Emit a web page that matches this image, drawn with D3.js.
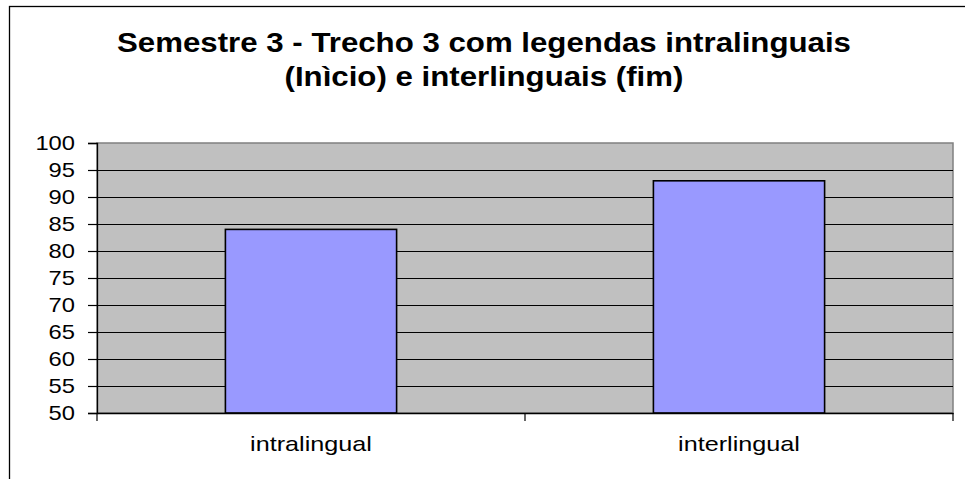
<!DOCTYPE html>
<html>
<head>
<meta charset="utf-8">
<script src="https://cdn.jsdelivr.net/npm/d3@7"></script>
<style>
  body { margin: 0; background: #fff; }
  svg { display: block; font-family: "Liberation Sans", Arial, sans-serif; }
</style>
</head>
<body>
<svg></svg>
<script>
let categories = ["intralingual", "interlingual"];
let values = [84, 93];
let yTicks = [50, 55, 60, 65, 70, 75, 80, 85, 90, 95, 100];
let titleLines = ["Semestre 3 - Trecho 3 com legendas intralinguais", "(Inìcio) e interlinguais (fim)"];

let width = 965;
let height = 479;
let plot = {left: 97, right: 953, top: 143, bottom: 413};
let stretch = 1.13; // text in the original is a bit wider than plain Arial

let svg = d3.select("svg")
    .attr("width", width)
    .attr("height", height);

let widen = (sel, k) => {
    sel.each(function () {
        let w = this.getComputedTextLength();
        d3.select(this)
            .attr("textLength", w * k)
            .attr("lengthAdjust", "spacingAndGlyphs");
    });
};

// chart area frame (cropped at right / bottom)
svg.append("rect")
    .attr("x", 9.5)
    .attr("y", 6.5)
    .attr("width", 1000)
    .attr("height", 1000)
    .attr("fill", "white")
    .attr("stroke", "black")
    .attr("stroke-width", 1.3);

// title
let title = svg.selectAll(".title")
    .data(titleLines)
    .enter()
    .append("text")
    .attr("class", "title")
    .attr("x", 484)
    .attr("y", (d, i) => 52 + i * 34)
    .attr("text-anchor", "middle")
    .style("font-size", "28px")
    .style("font-weight", "bold")
    .text(d => d);
widen(title, 1.115);

let xScale = d3.scaleBand()
    .domain(categories)
    .range([plot.left, plot.right])
    .paddingInner(0.6)
    .paddingOuter(0.3);

let yScale = d3.scaleLinear()
    .domain([50, 100])
    .range([plot.bottom, plot.top]);

// plot background
svg.append("rect")
    .attr("x", plot.left)
    .attr("y", plot.top)
    .attr("width", plot.right - plot.left)
    .attr("height", plot.bottom - plot.top)
    .attr("fill", "#c0c0c0")
    .attr("stroke", "#808080")
    .attr("stroke-width", 1.5);

// gridlines
svg.selectAll(".grid")
    .data(yTicks.slice(1, -1))
    .enter()
    .append("line")
    .attr("x1", plot.left)
    .attr("x2", plot.right)
    .attr("y1", d => Math.round(yScale(d)) + 0.5)
    .attr("y2", d => Math.round(yScale(d)) + 0.5)
    .attr("stroke", "#000")
    .attr("stroke-width", 1.2);

// bars
svg.selectAll(".bar")
    .data(values)
    .enter()
    .append("rect")
    .attr("class", "bar")
    .attr("x", (d, i) => xScale(categories[i]))
    .attr("y", d => yScale(d))
    .attr("width", xScale.bandwidth())
    .attr("height", d => plot.bottom - yScale(d))
    .attr("fill", "#9999ff")
    .attr("stroke", "#000")
    .attr("stroke-width", 1.6);

// y axis
let yAxis = d3.axisLeft(yScale)
    .tickValues(yTicks)
    .tickSize(9)
    .tickPadding(13);

let gy = svg.append("g")
    .attr("transform", "translate(" + plot.left + ",0)")
    .call(yAxis);
gy.select(".domain").attr("stroke", "#000").attr("stroke-width", 1.3);
gy.selectAll(".tick line").attr("stroke", "#000").attr("stroke-width", 1.2);
gy.selectAll(".tick text")
    .attr("fill", "#000")
    .style("font-size", "21px")
    .style("font-family", "Liberation Sans, Arial, sans-serif");
widen(gy.selectAll(".tick text"), stretch);

// x axis
let xAxis = d3.axisBottom(xScale)
    .tickSize(0)
    .tickPadding(23);

let gx = svg.append("g")
    .attr("transform", "translate(0," + plot.bottom + ")")
    .call(xAxis);
gx.select(".domain").attr("stroke", "#000").attr("stroke-width", 1.3);
gx.selectAll(".tick text")
    .attr("fill", "#000")
    .style("font-size", "21px")
    .style("font-family", "Liberation Sans, Arial, sans-serif");
widen(gx.selectAll(".tick text"), 1.2);

// category separator ticks
let edges = [plot.left, (plot.left + plot.right) / 2, plot.right];
svg.selectAll(".xtick")
    .data(edges)
    .enter()
    .append("line")
    .attr("x1", d => d)
    .attr("x2", d => d)
    .attr("y1", plot.bottom)
    .attr("y2", plot.bottom + 8)
    .attr("stroke", "#000")
    .attr("stroke-width", 1.2);
</script>
</body>
</html>
